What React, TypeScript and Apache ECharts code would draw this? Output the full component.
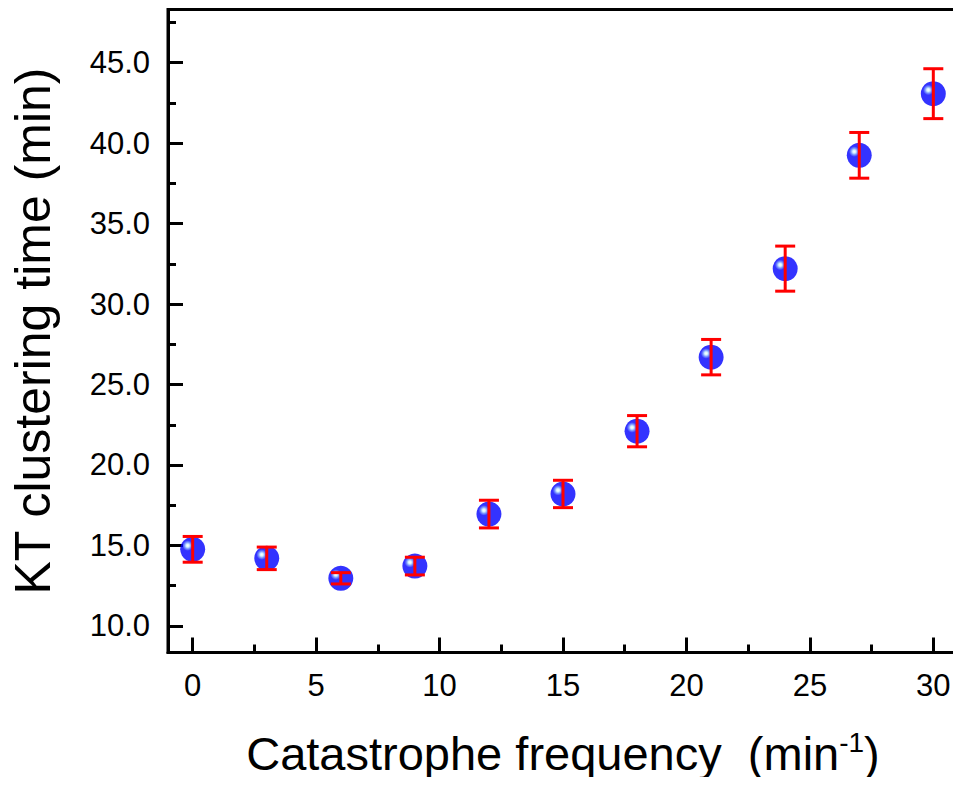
import React, { useEffect, useRef } from "react";
import * as echarts from "echarts";

const frequency = [0, 3, 6, 9, 12, 15, 18, 21, 24, 27, 30];
const clusteringTime = [14.76, 14.2, 12.96, 13.72, 16.95, 18.2, 22.1, 26.7, 32.2, 39.24, 43.07];
const errorValues = [0.8, 0.7, 0.35, 0.55, 0.86, 0.85, 0.97, 1.1, 1.4, 1.42, 1.55];
const xMajorTicks = [0, 5, 10, 15, 20, 25, 30];
const xMinorTicks = [2.5, 7.5, 12.5, 17.5, 22.5, 27.5];
const yMajorTicks = [10, 15, 20, 25, 30, 35, 40, 45];
const yMinorTicks = [12.5, 17.5, 22.5, 27.5, 32.5, 37.5, 42.5, 47.5];

const FONT = "Liberation Sans";

export default function App() {
  const ref = useRef<HTMLDivElement>(null);
  useEffect(() => {
    if (!ref.current) return;
    const chart = echarts.init(ref.current, null, { renderer: "svg" });
    const xMin = -1, xMax = 31, yMin = 8.35, yMax = 48.3;
    const points = frequency.map((f, i) => [f, clusteringTime[i]]);
    const errData = frequency.map((f, i) => [f, clusteringTime[i] - errorValues[i], clusteringTime[i] + errorValues[i]]);
    const commonAxisLine = { show: true, onZero: false, lineStyle: { color: "#000", width: 3 } };
    chart.setOption({
      animation: false,
      backgroundColor: "#fff",
      grid: {
        left: 168, right: 3, top: 9.5, bottom: 132.5,
        show: true, borderColor: "#000", borderWidth: 3, backgroundColor: "transparent",
        containLabel: false,
      },
      xAxis: [
        {
          type: "value", min: xMin, max: xMax,
          axisLine: commonAxisLine,
          axisTick: { show: true, inside: true, length: 15, lineStyle: { width: 3, color: "#000" }, customValues: xMajorTicks },
          axisLabel: { show: true, customValues: xMajorTicks, fontFamily: FONT, fontSize: 31, color: "#000", margin: 17 },
          splitLine: { show: false },
          name: "Catastrophe frequency  (min{sup|-1})",
          nameLocation: "middle",
          nameGap: 76,
          nameTextStyle: {
            fontFamily: FONT, fontSize: 47, color: "#000",
            rich: { sup: { fontFamily: FONT, fontSize: 28, color: "#000", verticalAlign: "bottom", padding: [0, 0, 22, 0] } },
          },
        },
        {
          type: "value", min: xMin, max: xMax, position: "bottom",
          axisLine: { show: false, onZero: false },
          axisTick: { show: true, inside: true, length: 8, lineStyle: { width: 3, color: "#000" }, customValues: xMinorTicks },
          axisLabel: { show: false },
          splitLine: { show: false },
        },
      ],
      yAxis: [
        {
          type: "value", min: yMin, max: yMax,
          axisLine: commonAxisLine,
          axisTick: { show: true, inside: true, length: 15, lineStyle: { width: 3, color: "#000" }, customValues: yMajorTicks },
          axisLabel: {
            show: true, customValues: yMajorTicks, fontFamily: FONT, fontSize: 31, color: "#000", margin: 18,
            formatter: (v: number) => v.toFixed(1),
          },
          splitLine: { show: false },
          name: "KT clustering time (min)",
          nameLocation: "middle",
          nameRotate: 90,
          nameGap: 110,
          nameTextStyle: { fontFamily: FONT, fontSize: 50, color: "#000" },
        },
        {
          type: "value", min: yMin, max: yMax, position: "left",
          axisLine: { show: false, onZero: false },
          axisTick: { show: true, inside: true, length: 8, lineStyle: { width: 3, color: "#000" }, customValues: yMinorTicks },
          axisLabel: { show: false },
          splitLine: { show: false },
        },
      ],
      series: [
        {
          type: "scatter",
          data: points,
          symbol: "circle",
          symbolSize: 25,
          z: 2,
          itemStyle: {
            color: {
              type: "radial", x: 0.3, y: 0.35, r: 0.75,
              colorStops: [
                { offset: 0, color: "#ffffff" },
                { offset: 0.08, color: "#c8f0ff" },
                { offset: 0.18, color: "#5070ff" },
                { offset: 0.28, color: "#0000ff" },
                { offset: 1, color: "#0000ff" },
              ],
            },
          },
        },
        {
          type: "custom",
          z: 3,
          data: errData,
          renderItem: (params: any, api: any) => {
            const x = api.value(0);
            const lo = api.coord([x, api.value(1)]);
            const hi = api.coord([x, api.value(2)]);
            const hw = 10;
            const style = { stroke: "#ff0000", lineWidth: 3 };
            return {
              type: "group",
              children: [
                { type: "line", shape: { x1: lo[0], y1: lo[1], x2: hi[0], y2: hi[1] }, style },
                { type: "line", shape: { x1: lo[0] - hw, y1: lo[1], x2: lo[0] + hw, y2: lo[1] }, style },
                { type: "line", shape: { x1: hi[0] - hw, y1: hi[1], x2: hi[0] + hw, y2: hi[1] }, style },
              ],
            };
          },
        },
      ],
    });
    return () => chart.dispose();
  }, []);
  return <div ref={ref} style={{ width: 961, height: 785, margin: -8 }} />;
}
